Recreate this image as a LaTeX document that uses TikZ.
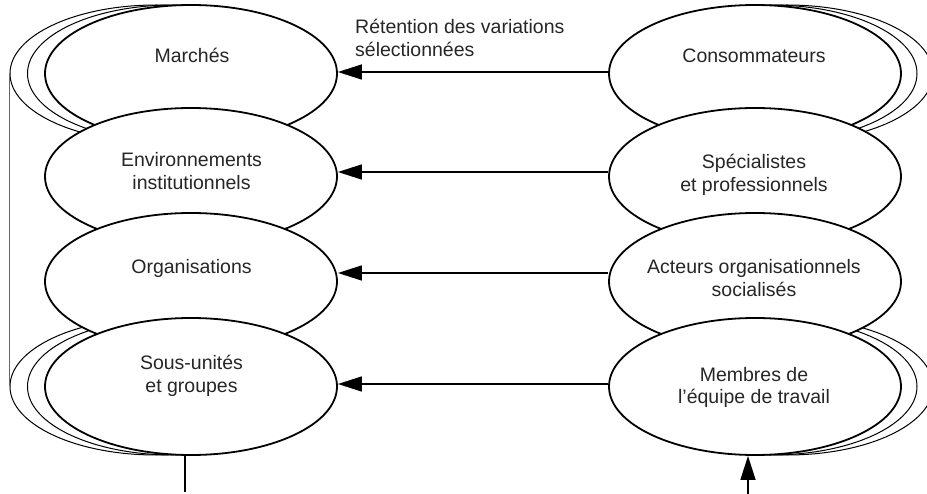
\documentclass[tikz,border=0pt]{standalone}
\usepackage{fontspec}
\setmainfont{Liberation Sans}
\usetikzlibrary{arrows.meta,shapes.geometric}
\begin{document}
\begin{tikzpicture}[x=1pt,y=-1pt,
  level/.style={draw=black, line width=1.8pt, fill=white, ellipse,
    minimum width=292pt, minimum height=137pt, inner sep=0pt},
  echo/.style={draw=black, line width=1pt, ellipse,
    minimum width=292pt, minimum height=137pt, inner sep=0pt},
  txt/.style={font=\fontsize{19.5}{23}\selectfont, text=black!85,
    align=center, anchor=base, inner sep=0pt},
  flow/.style={line width=1.5pt, -{Triangle[length=24pt,width=15pt]}},
  rail/.style={line width=1pt, draw=black!60}]
\useasboundingbox (0,0) rectangle (927,494);
\clip (0,0) rectangle (927,494);

% echoes behind the outer levels
\foreach \s/\n in {17.5/a,35/b}{
  \node[echo] (mL\n) at (191-\s,73.5) {};
  \node[echo] (sL\n) at (191-\s,386.5) {};
}
\foreach \s/\n in {16/a,32/b}{
  \node[echo] (cR\n) at (755+\s,73.5) {};
  \node[echo] (mR\n) at (755+\s,386.5) {};
}
\draw[rail] (mLb.west) -- (sLb.west);

% left column
\node[level] (L1) at (191,73.5) {};
\node[level] (L2) at (191,176.5) {};
\node[level] (L3) at (191,281.5) {};
\node[level] (L4) at (191,386.5) {};
% right column
\node[level] (R1) at (755,73.5) {};
\node[level] (R2) at (755,176.5) {};
\node[level] (R3) at (755,281.5) {};
\node[level] (R4) at (755,386.5) {};

% labels (anchored on the baseline of their last line)
\node[txt] (tL1) at (192,63) {Marchés};
\node[txt] (tL2) at (191.5,190) {Environnements\\institutionnels};
\node[txt] (tL3) at (191.5,274) {Organisations};
\node[txt] (tL4) at (191.5,392) {Sous-unités\\et groupes};
\node[txt] (tR1) at (754,63) {Consommateurs};
\node[txt] (tR2) at (754,192) {Spécialistes\\et professionnels};
\node[txt] (tR3) at (754,297) {Acteurs organisationnels\\socialisés};
\node[txt] (tR4) at (754,404) {Membres de\\l’équipe de travail};
\node[txt, align=left, anchor=base west] (ret) at (355,57)
  {Rétention des variations\\sélectionnées};

% selection arrows
\draw[flow] ([yshift=1.5pt]R1.west) -- ([yshift=1.5pt]L1.east);
\draw[flow] ([yshift=4.5pt]R2.west) -- ([yshift=4.5pt]L2.east);
\draw[flow] ([yshift=8.5pt]R3.west) -- ([yshift=8.5pt]L3.east);
\draw[flow] ([yshift=2.5pt]R4.west) -- ([yshift=2.5pt]L4.east);

% vertical links at the bottom
\coordinate (outL) at (185,492);
\coordinate (inR) at (748,494);
\draw[line width=1.2pt] (L4.south -| outL) -- (outL);
\draw[flow] (inR) -- (inR |- R4.south);
\end{tikzpicture}
\end{document}
